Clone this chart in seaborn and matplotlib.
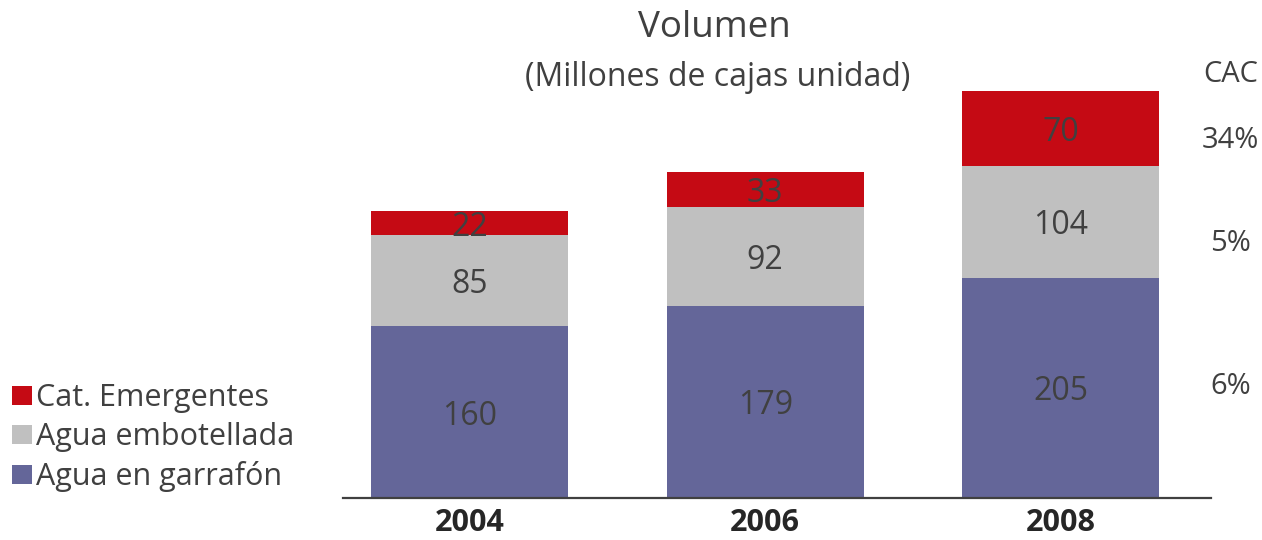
import matplotlib
matplotlib.use('Agg')
import matplotlib.pyplot as plt
from matplotlib.patches import Patch
import seaborn as sns
import pandas as pd

# data
years = ['2004', '2006', '2008']
garrafon = [160, 179, 205]
embotellada = [85, 92, 104]
emergentes = [22, 33, 70]
series_names = ['Cat. Emergentes', 'Agua embotellada', 'Agua en garrafón']
cac = ['34%', '5%', '6%']

colors = {'Agua en garrafón': '#646699',
          'Agua embotellada': '#C0C0C0',
          'Cat. Emergentes': '#C50A14'}
txt = '#404040'

sns.set_theme(style='white')
plt.rcParams['font.family'] = ['Open Sans', 'DejaVu Sans']

df = pd.DataFrame({'year': years, 'garrafon': garrafon,
                   'embotellada': embotellada, 'emergentes': emergentes})
df['lvl1'] = df['garrafon']
df['lvl2'] = df['lvl1'] + df['embotellada']
df['lvl3'] = df['lvl2'] + df['emergentes']

fig = plt.figure(figsize=(12.62, 5.4), dpi=100)
ax = fig.add_axes([343 / 1262, 1 - 498 / 540, (1211 - 343) / 1262, 400 * 1.074 / 540])

# stacked by overlaying cumulative totals, tallest first
for col, name in [('lvl3', 'Cat. Emergentes'), ('lvl2', 'Agua embotellada'),
                  ('lvl1', 'Agua en garrafón')]:
    sns.barplot(data=df, x='year', y=col, color=colors[name], width=0.667,
                saturation=1, ax=ax, linewidth=0)

# segment labels
for i in range(len(years)):
    bottom = 0
    for v in [garrafon[i], embotellada[i], emergentes[i]]:
        ax.text(i, bottom + v / 2, str(v), ha='center', va='center_baseline',
                fontsize=23, color=txt)
        bottom += v

ax.set_xlim(-0.43, 2.51)
ax.set_ylim(0, 400)
ax.set_xlabel('')
ax.set_ylabel('')
ax.set_yticks([])
for s in ['left', 'right', 'top']:
    ax.spines[s].set_visible(False)
ax.spines['bottom'].set_color('#404040')
ax.spines['bottom'].set_linewidth(1.6)
ax.tick_params(axis='x', length=0, pad=7, labelsize=22, labelcolor='#262626')
for lab in ax.get_xticklabels():
    lab.set_fontweight('bold')

# CAC column
cac_x = 2.577
ax.text(cac_x, 394, 'CAC', ha='center', va='center', fontsize=21, color=txt)
for lab, y in zip(cac, [333, 237, 104]):
    ax.text(cac_x, y, lab, ha='center', va='center', fontsize=21, color=txt)

# titles
fig.text(714 / 1262, 1 - 28 / 540, 'Volumen', ha='center', va='center',
         fontsize=26.5, color=txt)
fig.text(718 / 1262, 1 - 78 / 540, '(Millones de cajas unidad)', ha='center',
         va='center', fontsize=23, color=txt)

handles = [Patch(facecolor=colors[n], edgecolor='none') for n in series_names]
fig.legend(handles, series_names, loc='upper left',
           bbox_to_anchor=(12 / 1262, 1 - 383 / 540), frameon=False,
           fontsize=22, labelcolor=txt, handlelength=0.65, handleheight=0.6,
           handletextpad=0.15, labelspacing=0.3, borderaxespad=0, borderpad=0)

fig.savefig('out.png', dpi=100)
